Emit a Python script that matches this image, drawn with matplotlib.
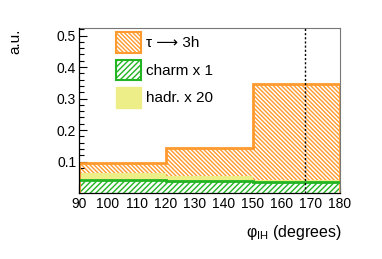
import matplotlib
matplotlib.use("Agg")
import matplotlib.pyplot as plt
from matplotlib.patches import Patch
import numpy as np

plt.rcParams['font.family'] = ['Liberation Sans', 'DejaVu Sans']
plt.rcParams['mathtext.fontset'] = 'custom'
plt.rcParams['mathtext.rm'] = 'Liberation Sans'
plt.rcParams['mathtext.it'] = 'Liberation Sans:italic'
plt.rcParams['hatch.linewidth'] = 1.0

# data
bin_edges = [90, 120, 150, 180]
tau3h = [0.095, 0.142, 0.345]
hadr_x20 = [0.062, 0.054, 0.040]
charm_x1 = [0.041, 0.037, 0.034]
vline_x = 168
x_ticks = [90, 100, 110, 120, 130, 140, 150, 160, 170, 180]
y_ticks = [0.1, 0.2, 0.3, 0.4, 0.5]
labels = ['τ ⟶ 3h', 'charm x 1', 'hadr. x 20']

orange = '#ff9a2e'
green = '#22b422'
yellow = '#eeee88'
orange_hatch = '\\' * 8
green_hatch = '/' * 6

fig = plt.figure(figsize=(3.82, 2.59), dpi=100)
ax = fig.add_axes([79/382, 1-193/259, (340-79)/382, (193-28)/259])

ax.stairs(tau3h, bin_edges, fill=True, facecolor='white', edgecolor=orange,
          hatch=orange_hatch, linewidth=0, zorder=1)
ax.stairs(tau3h, bin_edges, baseline=0, color=orange, linewidth=2, zorder=4)
ax.stairs(hadr_x20, bin_edges, fill=True, facecolor=yellow, edgecolor=yellow,
          linewidth=0, zorder=2)
ax.stairs(charm_x1, bin_edges, fill=True, facecolor='white', edgecolor=green,
          hatch=green_hatch, linewidth=0, zorder=3)
ax.stairs(charm_x1, bin_edges, baseline=None, color=green, linewidth=2, zorder=5)

ax.axvline(vline_x, color='black', linestyle=(0, (1.5, 1.5)), linewidth=1, zorder=6)

ax.set_xlim(90, 180)
ax.set_ylim(0, 0.524)
ax.set_xticks(x_ticks)
ax.set_xticks(np.arange(90, 181, 2), minor=True)
ax.set_yticks(y_ticks)
ax.set_yticks(np.arange(0, 0.521, 0.02), minor=True)
ax.set_xticklabels([str(v) for v in x_ticks])
ax.set_yticklabels([f'{v:.1f}' for v in y_ticks])
ax.tick_params(axis='both', which='both', direction='in', labelsize=10,
               top=False, right=False)
ax.tick_params(axis='both', which='major', length=6, width=0.8)
ax.tick_params(axis='both', which='minor', length=3.5, width=0.8)
ax.tick_params(axis='x', pad=3)
ax.tick_params(axis='y', pad=2)
for s in ['top', 'right']:
    ax.spines[s].set_color('#777777')
    ax.spines[s].set_linewidth(0.8)
for s in ['left', 'bottom']:
    ax.spines[s].set_linewidth(0.9)
    ax.spines[s].set_zorder(7)

handles = [
    Patch(facecolor='white', edgecolor=orange, hatch=orange_hatch, linewidth=1.5),
    Patch(facecolor='white', edgecolor=green, hatch=green_hatch, linewidth=1.5),
    Patch(facecolor=yellow, edgecolor=yellow, linewidth=1.0),
]
leg = fig.legend(handles, labels, loc='upper left',
                 bbox_to_anchor=(116/382, 1-32/259), frameon=False,
                 fontsize=11, handlelength=1.65, handleheight=1.7,
                 handletextpad=0.3, labelspacing=0.45, borderpad=0,
                 borderaxespad=0)

fig.text(15/382, 1-29/259, 'a.u.', rotation=90, ha='center', va='top', fontsize=11)
fig.text(342/382, 1-232/259, r'φ$_{\mathrm{IH}}$ (degrees)', ha='right',
         va='center', fontsize=11.5)

fig.savefig('out.png', dpi=100)
